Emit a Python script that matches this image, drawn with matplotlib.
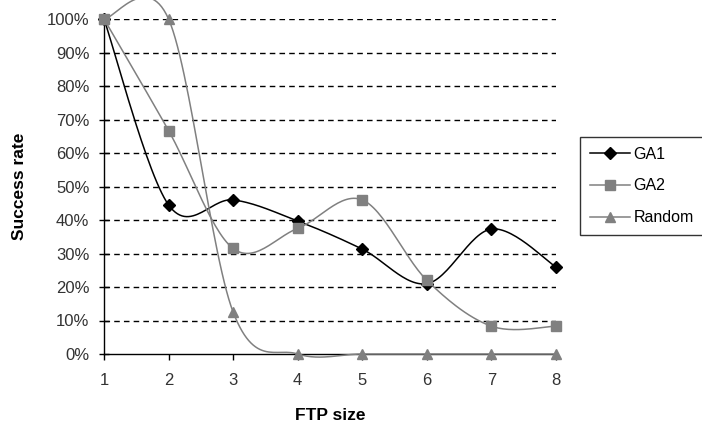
import numpy as np
import matplotlib
matplotlib.use('Agg')
import matplotlib.pyplot as plt
from matplotlib.ticker import FuncFormatter

plt.rcParams['font.family'] = ['Liberation Sans', 'DejaVu Sans']

ftp_size = [1, 2, 3, 4, 5, 6, 7, 8]
ga1 = [100, 44.5, 46, 39.7, 31.3, 21, 37.3, 26]
ga2 = [100, 66.7, 31.5, 37.5, 46, 22, 8.3, 8.3]
random_ = [100, 100, 12.5, 0, 0, 0, 0, 0]


def smooth(xs, ys, n=30):
    # Excel-like smoothed line (Catmull-Rom as cubic Bezier)
    xs = np.asarray(xs, float)
    ys = np.asarray(ys, float)
    px = np.concatenate([[xs[0]], xs, [xs[-1]]])
    py = np.concatenate([[ys[0]], ys, [ys[-1]]])
    outx, outy = [], []
    t = np.linspace(0, 1, n)
    for i in range(1, len(px) - 2):
        p0 = np.array([px[i], py[i]])
        p3 = np.array([px[i + 1], py[i + 1]])
        p1 = p0 + (np.array([px[i + 1], py[i + 1]]) - np.array([px[i - 1], py[i - 1]])) / 6
        p2 = p3 - (np.array([px[i + 2], py[i + 2]]) - np.array([px[i], py[i]])) / 6
        b = ((1 - t) ** 3)[:, None] * p0 + (3 * (1 - t) ** 2 * t)[:, None] * p1 \
            + (3 * (1 - t) * t ** 2)[:, None] * p2 + (t ** 3)[:, None] * p3
        outx.extend(b[:, 0])
        outy.extend(b[:, 1])
    return outx, outy


fig = plt.figure(figsize=(7.02, 4.28), dpi=100)
ax = fig.add_axes([104 / 702, 1 - 354 / 428, (556 - 104) / 702, (354 - 19) / 428])

series = [
    ('GA1', ga1, 'black', 'D', 6),
    ('GA2', ga2, '#808080', 's', 6.5),
    ('Random', random_, '#808080', '^', 7),
]
for name, vals, col, mk, ms in series:
    sx, sy = smooth(ftp_size, vals)
    ax.plot(sx, sy, color=col, lw=1.1, clip_on=False, zorder=3)
    ax.plot(ftp_size, vals, ls='none', marker=mk, color=col, ms=ms, clip_on=False, zorder=4)
    ax.plot([], [], color=col, lw=1.1, marker=mk, ms=ms, label=name)

ax.set_xlim(1, 8)
ax.set_ylim(0, 100)
ax.set_yticks(range(0, 101, 10))
ax.yaxis.set_major_formatter(FuncFormatter(lambda v, p: f'{int(v)}%'))
ax.set_xticks(ftp_size)
ax.tick_params(axis='y', direction='inout', length=7, width=1, labelsize=12, colors='black', pad=7)
ax.tick_params(axis='x', direction='out', length=4, width=1, labelsize=12, pad=10)
for lab in ax.get_yticklabels() + ax.get_xticklabels():
    lab.set_color('#333333')

for v in range(10, 101, 10):
    ax.axhline(v, color='black', lw=1, ls=(0, (4, 3)), zorder=1)

for s in ['top', 'right']:
    ax.spines[s].set_visible(False)
ax.spines['left'].set_linewidth(1)
ax.spines['bottom'].set_linewidth(1)

ax.set_xlabel('FTP size', fontsize=12.5, fontweight='bold', labelpad=14)
ax.set_ylabel('Success rate', fontsize=12.5, fontweight='bold', labelpad=14)

leg = fig.legend(loc='upper left', bbox_to_anchor=(580 / 702, 1 - 137 / 428), fontsize=11.5,
                 frameon=True, fancybox=False, edgecolor='black', handlelength=2.5,
                 labelspacing=1.05, borderpad=0.6, handletextpad=0.25, borderaxespad=0)
leg.get_frame().set_linewidth(1)

fig.savefig('out.png', dpi=100)
